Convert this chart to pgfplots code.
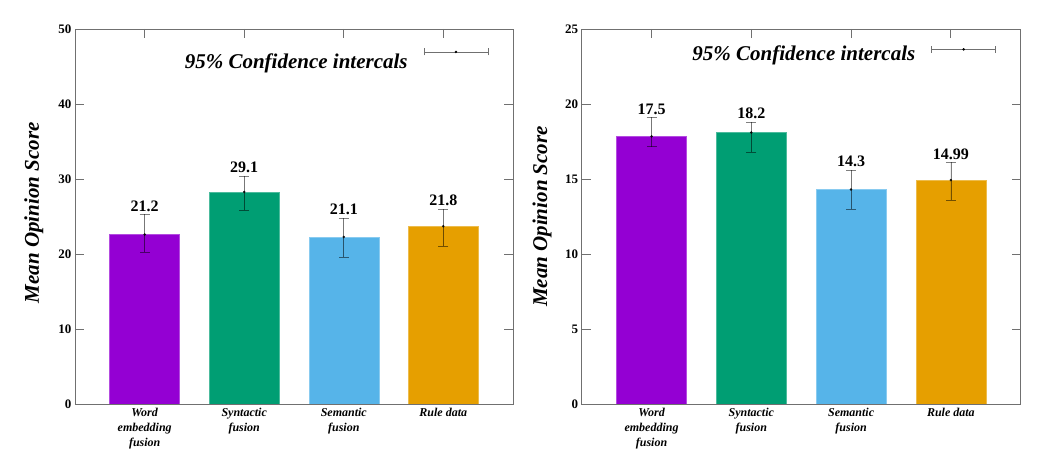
\documentclass[border=0pt]{standalone}
\usepackage{fontspec}
\setmainfont{Liberation Serif}
\usepackage{pgfplots}
\pgfplotsset{compat=1.18}
\definecolor{cpurple}{HTML}{9400D3}
\definecolor{cgreen}{HTML}{009E73}
\definecolor{cblue}{HTML}{56B4E9}
\definecolor{corange}{HTML}{E69F00}
\definecolor{frame}{HTML}{707070}
\tikzset{vlab/.style={anchor=base, font=\bfseries\fontsize{16}{18}\selectfont, yshift=3pt}}
\pgfplotsset{
  mos/.style={
    scale only axis, anchor=south west, height=375pt,
    xmin=-0.7, xmax=3.7, ymin=0,
    xtick={0,1,2,3},
    xticklabels={{Word\\embedding\\fusion},{Syntactic\\fusion},{Semantic\\fusion},{Rule data}},
    xtick pos=right, xticklabel pos=left,
    tick align=inside, major tick length=9pt,
    tick style={frame, line width=0.8pt},
    axis line style={frame, line width=0.9pt},
    xticklabel style={font=\bfseries\itshape\fontsize{12}{15}\selectfont, align=center, anchor=north, inner sep=0pt, yshift=-4pt},
    yticklabel style={font=\bfseries\fontsize{13}{15}\selectfont},
    /pgf/number format/assume math mode=true,
    ylabel={Mean Opinion Score},
    ylabel style={font=\bfseries\itshape\fontsize{21}{24}\selectfont, anchor=center},
    legend style={draw=none, fill=none, font=\bfseries\itshape\fontsize{21}{24}\selectfont, column sep=14pt},
    legend plot pos=right,
  },
  mbar/.style={ybar, bar width=70pt, draw=#1!70!white, line width=0.5pt, fill=#1,
    mark=*, mark size=1pt, mark options={black, fill=black, draw opacity=0.8, fill opacity=0.8},
    error bars/.cd, y dir=both, y explicit,
    error bar style={black, opacity=0.5, line width=0.7pt},
    error mark options={rotate=90, black, opacity=0.5, line width=0.7pt, mark size=5pt}},
  cilegend/.style={legend image code/.code={
    \draw[frame, line width=0.7pt] (0pt,#1) -- (64pt,#1);
    \draw[frame, line width=0.7pt] ([yshift=-3.5pt]0pt,#1) -- ([yshift=3.5pt]0pt,#1);
    \draw[frame, line width=0.7pt] ([yshift=-3.5pt]64pt,#1) -- ([yshift=3.5pt]64pt,#1);
    \fill[black] (32pt,#1) circle (1pt);}},
}
\begin{document}
\begin{tikzpicture}
\useasboundingbox (0,0) rectangle (1042pt,471pt);
\begin{axis}[mos, at={(75pt,67pt)}, width=438pt, ymax=50, ytick={0,10,...,50},
  ylabel style={at={(axis description cs:-0.094,0.51)}},
  legend style={at={(axis description cs:0.951,0.917)}, anchor=east}]
\addplot[mbar=cpurple] coordinates {(0,22.6) += (0,2.7) -= (0,2.4)};
\addplot[mbar=cgreen] coordinates {(1,28.27) += (0,2.13) -= (0,2.47)};
\addplot[mbar=cblue] coordinates {(2,22.27) += (0,2.53) -= (0,2.67)};
\addplot[mbar=corange] coordinates {(3,23.7) += (0,2.3) -= (0,2.7)};
\addlegendimage{cilegend=10pt}
\legend{,,,,95\% Confidence intercals}
\node[vlab] at (axis cs:0,25.3) {21.2};
\node[vlab] at (axis cs:1,30.4) {29.1};
\node[vlab] at (axis cs:2,24.8) {21.1};
\node[vlab] at (axis cs:3,26.0) {21.8};
\end{axis}
\begin{axis}[mos, at={(581.7pt,67pt)}, width=439pt, ymax=25, ytick={0,5,...,25},
  ylabel style={at={(axis description cs:-0.09,0.50)}},
  legend style={at={(axis description cs:0.951,0.935)}, anchor=east}]
\addplot[mbar=cpurple] coordinates {(0,17.84) += (0,1.26) -= (0,0.69)};
\addplot[mbar=cgreen] coordinates {(1,18.1) += (0,0.7) -= (0,1.3)};
\addplot[mbar=cblue] coordinates {(2,14.3) += (0,1.3) -= (0,1.3)};
\addplot[mbar=corange] coordinates {(3,14.93) += (0,1.17) -= (0,1.33)};
\addlegendimage{cilegend=4pt}
\legend{,,,,95\% Confidence intercals}
\node[vlab] at (axis cs:0,19.1) {17.5};
\node[vlab] at (axis cs:1,18.8) {18.2};
\node[vlab] at (axis cs:2,15.6) {14.3};
\node[vlab] at (axis cs:3,16.1) {14.99};
\end{axis}
\end{tikzpicture}
\end{document}
